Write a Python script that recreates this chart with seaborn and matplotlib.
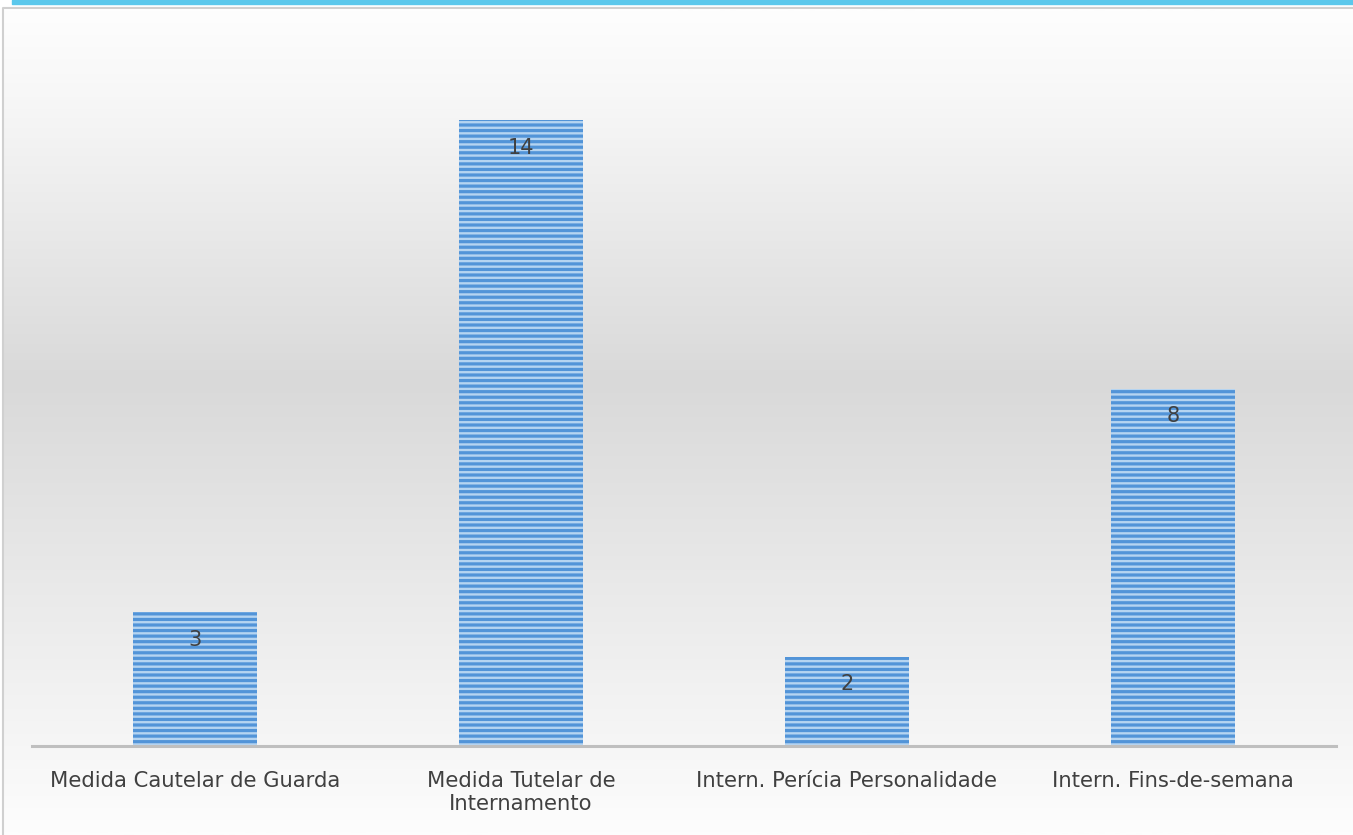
import numpy as np
import pandas as pd
import matplotlib
matplotlib.use("Agg")
import matplotlib.pyplot as plt
from matplotlib.colors import LinearSegmentedColormap
import seaborn as sns

categories = ["Medida Cautelar de Guarda", "Medida Tutelar de\nInternamento",
              "Intern. Perícia Personalidade", "Intern. Fins-de-semana"]
values = [3, 14, 2, 8]

df = pd.DataFrame({"cat": categories, "val": values})

sns.set_style("white")
plt.rcParams['font.family'] = ['DejaVu Sans']
plt.rcParams['hatch.linewidth'] = 2.3

W, H = 1353, 835
fig = plt.figure(figsize=(W / 100, H / 100), dpi=100)
fig.patch.set_facecolor("white")

# background gradient panel
bg = fig.add_axes([0, 0, 1, 1], zorder=0)
bg.set_xlim(0, W)
bg.set_ylim(H, 0)
bg.axis("off")
cmap = LinearSegmentedColormap.from_list(
    "g", [(0, "#FEFEFE"), (0.12, "#F6F6F6"), (0.45, "#D9D9D9"), (0.85, "#F3F3F3"), (1, "#FDFDFD")])
grad = np.linspace(0, 1, 400).reshape(-1, 1)
bg.imshow(grad, cmap=cmap, aspect="auto", extent=[3, W, H, 8], zorder=0)
bg.plot([3, 3, W], [H, 8, 8], color="#D0D0D0", lw=1.5, zorder=1)
bg.fill_between([12, W], 0, 3.5, color="#5BC8EC", zorder=2)

ax = fig.add_axes([32 / W, 1 - 746 / H, 1304 / W, (746 - 31) / H], zorder=1)
ax.patch.set_alpha(0)
sns.barplot(data=df, x="cat", y="val", ax=ax, width=0.38,
            color="#B5D4F1", linewidth=0, saturation=1)
for p in ax.patches:
    p.set_hatch("---")
    p.set_edgecolor("#5294D8")
    p.set_linewidth(0)
for i, v in enumerate(values):
    ax.text(i, v - 0.62, str(v), ha="center", va="center", fontsize=15, color="#404040")

ax.set_xlim(-0.5, 3.5)
ax.set_ylim(0, 16)
ax.set_yticks([])
ax.set_xlabel("")
ax.set_ylabel("")
ax.tick_params(axis="x", length=0, labelsize=15.2, labelcolor="#404040", pad=18)
for s in ["top", "right", "left"]:
    ax.spines[s].set_visible(False)
ax.spines["bottom"].set_color("#BFBFBF")
ax.spines["bottom"].set_linewidth(2.2)

fig.savefig("out.png", dpi=100)
